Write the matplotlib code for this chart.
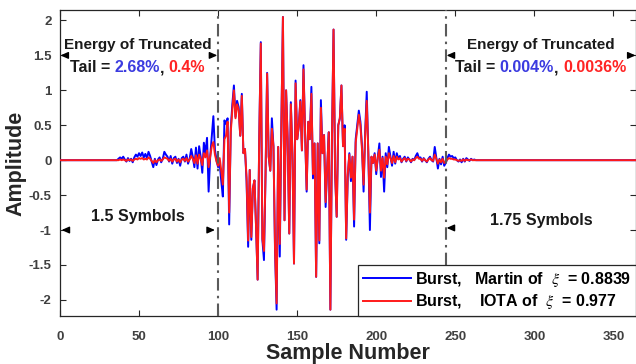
import numpy as np
import matplotlib
matplotlib.use("Agg")
import matplotlib.pyplot as plt
from matplotlib.offsetbox import TextArea, HPacker, VPacker, AnnotationBbox

# ---------------- data ----------------
# samples 0..29 are zero, rows below start at n = 30 (10 values per row)
blue_rows = [
    0, 0, 0, 0, 0, 0, 0.0, 0.02, 0.04, 0.02,
    0.05, 0.01, -0.02, 0.03, -0.01, 0.02, -0.03, 0.04, 0.08, 0.05,
    0.10, 0.06, 0.11, 0.04, 0.09, 0.03, 0.12, 0.06, -0.02, -0.10,
    0.02, -0.07, 0.01, 0.04, -0.03, 0.02, 0.12, 0.08, 0.05, -0.02,
    0.06, -0.05, 0.03, 0.05, -0.04, 0.02, -0.08, 0.03, 0.05, -0.02,
    0.08, -0.05, 0.02, 0.16, 0.05, -0.10, 0.18, -0.12, 0.20, 0.05,
    -0.18, 0.25, 0.10, 0.32, -0.45, 0.05, 0.35, 0.63, 0.15, 0.00,
    -0.10, -0.05, -0.30, -0.52, 0.57, 0.52, 0.60, -0.92, 0.45, 0.80,
    1.07, 0.62, 0.85, 0.76, 0.35, 0.95, 0.10, 0.16, -0.30, -1.24,
    -0.14, -1.14, -0.40, -0.29, -0.95, -1.71, 0.30, 1.69, -1.14, -1.43,
    -0.20, 1.25, 0.05, -0.15, 0.60, 0.20, -1.30, -2.14, 0.19, -1.38,
    0.50, 2.05, -0.86, 1.00, 0.30, -1.05, 0.83, 0.10, -1.48, 1.14,
    0.30, 0.48, 0.86, 0.14, 1.36, 0.40, -0.45, 0.55, 0.30, 1.05,
    -0.26, 0.24, -1.67, 0.24, -1.19, 0.86, 0.10, 0.36, -0.67, -0.10,
    0.40, -2.14, 0.30, 1.87, -0.20, -0.81, 0.50, 0.60, 1.07, 0.20,
    0.50, -1.14, -0.24, 0.10, -0.30, 0.05, -0.95, 0.30, 0.50, 0.71,
    0.55, 0.20, -0.45, 0.40, 0.98, 0.10, -1.00, 0.05, -0.04, 0.10,
    -0.20, 0.05, 0.24, -0.24, 0.05, -0.45, 0.10, -0.10, 0.19, 0.05,
    -0.08, 0.12, -0.05, 0.10, 0.02, 0.06, -0.03, 0.02, 0.05, -0.02,
    0.04, 0.01, -0.03, 0.02, 0.00, 0.06, 0.10, 0.03, 0.04, -0.02,
    0.03, 0.00, -0.03, 0.02, 0.05, 0.00, -0.02, 0.19, 0.04, -0.12,
    0.02, -0.06, 0.05, -0.08, -0.04, 0.03, 0.08, 0.05, 0.06, 0.03,
    0.04, 0.00, -0.02, 0.01, -0.03, 0.02, -0.02, 0.03, 0.01, -0.01,
    0.02, 0.00, 0.01, 0, 0, 0, 0, 0, 0, 0,
]
red_rows = [
    0, 0, 0, 0, 0, 0, 0.0, 0.0, 0.01, 0.0,
    0.01, 0.0, -0.01, 0.01, 0.0, 0.01, -0.01, 0.01, 0.02, 0.01,
    0.03, 0.02, 0.03, 0.01, 0.02, 0.01, 0.04, 0.02, -0.01, -0.04,
    0.0, -0.03, 0.0, 0.01, -0.01, 0.01, 0.04, 0.03, 0.02, -0.01,
    0.02, -0.02, 0.01, 0.02, -0.02, 0.01, -0.03, 0.01, 0.02, -0.01,
    0.03, -0.02, 0.01, 0.06, 0.02, -0.04, 0.07, -0.05, 0.08, 0.02,
    -0.07, 0.10, 0.04, 0.14, -0.10, 0.05, 0.20, 0.26, 0.08, -0.02,
    -0.08, 0.03, -0.15, -0.35, 0.30, 0.35, 0.55, -0.75, 0.40, 0.72,
    1.00, 0.60, 0.80, 0.72, 0.35, 0.92, 0.10, 0.16, -0.25, -1.15,
    -0.14, -1.10, -0.40, -0.29, -0.95, -1.71, 0.30, 1.67, -1.12, -1.30,
    -0.20, 1.24, 0.05, -0.15, 0.45, 0.20, -1.25, -2.05, 0.19, -1.20,
    0.50, 2.05, -0.86, 1.00, 0.30, -1.05, 0.80, 0.10, -1.48, 1.10,
    0.30, 0.48, 0.84, 0.14, 1.30, 0.40, -0.42, 0.55, 0.30, 0.95,
    -0.20, 0.24, -1.67, 0.24, -1.15, 0.75, 0.10, 0.36, -0.60, -0.10,
    0.40, -2.14, 0.30, 1.87, -0.20, -0.81, 0.50, 0.60, 1.07, 0.20,
    0.45, -1.12, -0.20, 0.08, -0.25, 0.05, -0.85, 0.25, 0.45, 0.65,
    0.50, 0.15, -0.35, 0.35, 0.85, 0.10, -0.75, 0.05, -0.04, 0.08,
    -0.15, 0.04, 0.15, -0.15, 0.03, -0.25, 0.05, -0.06, 0.10, 0.03,
    -0.04, 0.06, -0.03, 0.05, 0.01, 0.03, -0.02, 0.01, 0.03, -0.01,
    0.02, 0.01, -0.02, 0.01, 0.00, 0.03, 0.05, 0.02, 0.02, -0.01,
    0.02, 0.00, -0.02, 0.01, 0.03, 0.00, -0.01, 0.08, 0.02, -0.05,
    0.01, -0.03, 0.02, -0.04, -0.02, 0.01, 0.03, 0.02, 0.02, 0.01,
    0.01, 0.00, -0.01, 0.00, -0.01, 0.01, -0.01, 0.01, 0.00, 0.00,
    0.01, 0.00, 0.00, 0, 0, 0, 0, 0, 0, 0,
]
n_lead = 30
n_total = 365
blue = np.array([0.0] * n_lead + blue_rows + [0.0] * (n_total - n_lead - len(blue_rows)))
red = np.array([0.0] * n_lead + red_rows + [0.0] * (n_total - n_lead - len(red_rows)))
samples = np.arange(n_total)

boundaries = [100, 244]
xticks = [0, 50, 100, 150, 200, 250, 300, 350]
yticks = [-2, -1.5, -1, -0.5, 0, 0.5, 1, 1.5, 2]
ytick_labels = ["-2", "-1.5", "-1", "-0.5", "0", "0.5", "1", "1.5", "2"]
label_blue = r"Burst,   Martin of  $\xi$  = 0.8839"
label_red = r"Burst,    IOTA of  $\xi$  = 0.977"
tail_left = ["2.68%", "0.4%"]
tail_right = ["0.004%", "0.0036%"]

# ---------------- figure ----------------
plt.rcParams['font.family'] = ['Liberation Sans', 'DejaVu Sans']
plt.rcParams['mathtext.fontset'] = 'stix'
fig = plt.figure(figsize=(6.36, 3.64), dpi=100)
ax = fig.add_axes([0.0943, 0.132, 0.905, 0.8405])

ax.plot(samples, blue, color='#0000ff', lw=1.4, label=label_blue, zorder=3)
ax.plot(samples, red, color='#ff1a1a', lw=1.4, label=label_red, zorder=4)

ax.set_xlim(0, 364)
ax.set_ylim(-2.23, 2.15)
ax.set_xticks(xticks)
ax.set_yticks(yticks)
ax.set_yticklabels(ytick_labels)
ax.tick_params(direction='in', length=4, width=0.8, top=True, right=True,
               labelsize=9.5, colors='#262626')
ax.tick_params(axis='x', pad=11)
ax.tick_params(axis='y', pad=6)
for lab in ax.get_xticklabels() + ax.get_yticklabels():
    lab.set_fontweight('bold')
    lab.set_color('#404040')
for sp in ax.spines.values():
    sp.set_color('#262626')
    sp.set_linewidth(0.9)

ax.set_xlabel("Sample Number", fontsize=15.5, fontweight='bold', color='#262626', labelpad=0)
ax.set_ylabel("Amplitude", fontsize=15.5, fontweight='bold', color='#262626', labelpad=2)

for b in boundaries:
    ax.axvline(b, color='#5a5a5a', lw=1.5, ls=(0, (6, 2.5, 1.2, 2.5)), zorder=5)

# arrows
def head(x_from, x_to, y):
    ax.annotate("", xy=(x_to, y), xytext=(x_from, y),
                arrowprops=dict(arrowstyle='-|>,head_length=0.45,head_width=0.2',
                                color='k', lw=1.0, shrinkA=0, shrinkB=0), zorder=6)

head(4, 0.3, 1.5)
head(96, 99.5, 1.5)
head(5, 1, -1)
head(94, 98, -1)
head(248, 244.5, 1.5)
head(360, 364, 1.5)
head(248, 244.5, -0.97)

def energy_block(x, y, vals):
    k1 = dict(fontsize=11, fontweight='bold')
    k2 = dict(fontsize=11.5, fontweight='bold')
    l1 = TextArea("Energy of Truncated", textprops=dict(color='#1a1a1a', **k1))
    parts = [TextArea("Tail = ", textprops=dict(color='#1a1a1a', **k2)),
             TextArea(vals[0], textprops=dict(color='#3b3be0', **k2)),
             TextArea(", ", textprops=dict(color='#1a1a1a', **k2)),
             TextArea(vals[1], textprops=dict(color='#ff2424', **k2))]
    l2 = HPacker(children=parts, align='baseline', pad=0, sep=0)
    box = VPacker(children=[l1, l2], align='center', pad=0, sep=6)
    ab = AnnotationBbox(box, (x, y), xycoords='data', frameon=False, pad=0, zorder=7)
    ax.add_artist(ab)

energy_block(49, 1.48, tail_left)
energy_block(304, 1.48, tail_right)

sk = dict(fontsize=11.5, fontweight='bold', color='#1a1a1a')
ax.text(49.5, -0.81, "1.5 Symbols", ha='center', va='center', **sk)
ax.text(304.5, -0.87, "1.75 Symbols", ha='center', va='center', **sk)

leg = ax.legend(loc='lower right', borderaxespad=0, fancybox=False, framealpha=1,
                edgecolor='#262626', prop=dict(size=11.5, weight='bold'),
                handlelength=3.0, handletextpad=0.25, labelspacing=0.2,
                borderpad=0.3)
leg.get_frame().set_linewidth(0.9)
leg.set_zorder(10)

fig.savefig("out.png", dpi=100)
